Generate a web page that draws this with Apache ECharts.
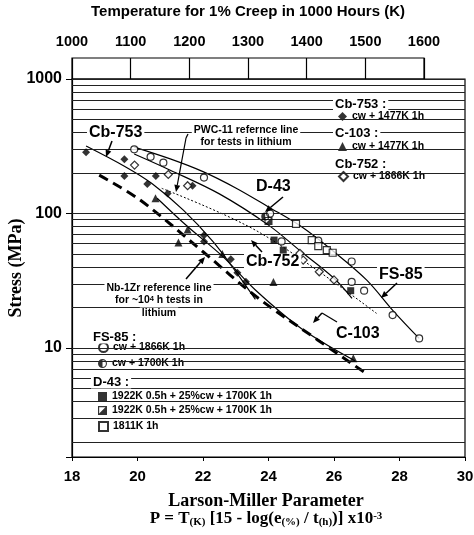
<!DOCTYPE html>
<html><head><meta charset="utf-8">
<script src="https://cdn.jsdelivr.net/npm/echarts@6/dist/echarts.min.js"></script>
<style>html,body{margin:0;padding:0;background:#fff}#c{width:474px;height:535px}</style>
</head><body><div id="c"></div>
<script>
// ---- data ----
const xTicks = [18, 20, 22, 24, 26, 28, 30];
const tempTicks = [1000, 1100, 1200, 1300, 1400, 1500, 1600];
const stressGrid = [2,3,4,5,6,7,8,9,10,20,30,40,50,60,70,80,90,100,200,300,400,500,600,700,800,900,1000];
const stressLabels = [10, 100, 1000];

const cb753Pts = [[18.43,285],[19.6,253],[19.6,190],[20.56,190],[20.3,166],[21.68,161],[20.92,141],[22.03,69],[22.03,62],[22.85,45.7],[23.05,36.3],[23.31,31.1]];
const c103Pts  = [[20.55,130],[21.53,76],[21.25,61],[22.59,50],[24.15,31],[26.59,8.4]];
const cb752Pts = [[19.91,229],[20.94,195],[21.53,161],[24.96,50.6],[25.06,45.1],[25.55,36.9],[26.0,32.1]];
const fs85aPts = [[19.9,300],[20.4,264],[20.79,239],[22.03,185],[24.05,100],[24.4,62],[25.52,63],[26.54,44],[26.54,31],[26.92,26.7],[27.79,17.6],[28.6,11.8]];
const fs85bPts = [[23.9,95]];
const d43aPts  = [[24.17,63.5],[24.45,53.5],[26.51,26.7]];
const d43bPts  = [[24.0,88]];
const d43cPts  = [[24.84,83.6],[25.32,63.5],[25.52,57.3],[25.78,53.5],[25.96,51.1]];

const cb753Curve = [[18.43,318],[19.6,225],[20.43,168],[21.4,106],[22.3,62],[23.0,37],[23.6,23]];
const nb1zrCurve = [[18.83,193],[20.08,126],[22,52],[23.64,24],[25.5,11.5],[27.05,6.3]];
const c103Curve  = [[20.6,130],[21.53,80],[22.6,48],[23.6,27],[25,14],[26.64,8.05]];
const pwcCurve   = [[20.74,154],[23.74,72],[27.3,18.1]];
const cb752Curve = [[19.9,277],[21,210],[22.5,140],[24,82],[25,52],[26,33],[26.55,23.4]];
const fs85Curve  = [[19.9,312],[21,255],[22,205],[23,155],[24,112],[25,80],[26,52],[27,32],[27.8,19],[28.6,11.8]];

// ---- styling ----
const SANS = '"Liberation Sans", Arial, sans-serif';
const SERIF = '"Liberation Serif", "Times New Roman", serif';
const halfCircle = 'path://M0,-10A10,10 0 1,1 0,10A10,10 0 1,1 0,-10Z M0,-7.5L0,7.5A7.5,7.5 0 0,0 0,-7.5Z';
const halfSquare = 'path://M0,0L10,0L10,10L0,10Z M1.3,1.3L1.3,8.2L8.2,1.3Z';
const legendNames = {
  'Cb-753':'cw + 1477K 1h','C-103':'cw + 1477K 1h','Cb-752':'cw + 1866K 1h',
  'FS-85 a':'cw + 1866K 1h','FS-85 b':'cw + 1700K 1h',
  'D-43 a':'1922K 0.5h + 25%cw + 1700K 1h','D-43 b':'1922K 0.5h + 25%cw + 1700K 1h','D-43 c':'1811K 1h'
};

function scatter(name, data, symbol, filled, size) {
  return { type:'scatter', name, data, symbol, symbolSize: size || 7, z: 5,
    itemStyle: filled ? {color:'#000'} : {color:'#fff', borderColor:'#000', borderWidth:1.2} };
}
function curve(data, style) {
  return { type:'line', data, smooth:0.35, symbol:'none', z:4, silent:true,
    lineStyle: Object.assign({color:'#000', width:1.2}, style) };
}

const chart = echarts.init(document.getElementById('c'), null, {renderer:'canvas'});

function legendAt(name, left, top) {
  return { data:[name], left, top, padding:0, itemWidth:9, itemHeight:9, selectedMode:false,
    formatter: n => legendNames[n],
    textStyle:{fontFamily:SANS, fontWeight:'bold', fontSize:10.5, color:'#000'} };
}

function arrow(x1,y1,x2,y2, w) {
  const a = Math.atan2(y2-y1, x2-x1), L = 7, H = 3;
  const bx = x2 - L*Math.cos(a), by = y2 - L*Math.sin(a);
  return [
    {type:'line', z:20, shape:{x1,y1,x2:bx,y2:by}, style:{stroke:'#000', lineWidth:w||1.5}},
    {type:'polygon', z:20, shape:{points:[[x2,y2],[bx+H*Math.sin(a), by-H*Math.cos(a)],[bx-H*Math.sin(a), by+H*Math.cos(a)]]}, style:{fill:'#000'}}
  ];
}
function txt(x, y, text, size, align, extra) {
  return Object.assign({type:'text', z:20, x, y, style:{text, fontFamily:SANS, fontWeight:'bold', fontSize:size,
    fill:'#000', align: align||'left', verticalAlign:'middle', backgroundColor:'#fff', padding:[0,2]}}, extra||{});
}
function whiteRect(x,y,w,h){ return {type:'rect', z:3, shape:{x,y,width:w,height:h}, style:{fill:'#fff'}}; }

const graphics = [
  whiteRect(329, 94, 116, 96),
  whiteRect(86, 329, 188, 108),
  txt(333, 104, 'Cb-753 :', 13),
  txt(333, 133, 'C-103 :', 13),
  txt(333, 164, 'Cb-752 :', 13),
  txt(91, 337, 'FS-85 :', 13),
  txt(91, 382, 'D-43 :', 13),
  // annotations
  txt(87, 133, 'Cb-753', 16),
  txt(246, 130, 'PWC-11 refernce line', 10.5, 'center'),
  txt(246, 142, 'for tests in lithium', 10.5, 'center'),
  txt(254, 187, 'D-43', 16),
  txt(244, 262, 'Cb-752', 16),
  txt(377, 275, 'FS-85', 16),
  txt(334, 334, 'C-103', 16),
  txt(159, 288, 'Nb-1Zr reference line', 10.5, 'center'),
  {type:'text', z:20, x:159, y:300, style:{text:'{a|for ~10}{b|4}{a| h tests in}', align:'center', verticalAlign:'middle', backgroundColor:'#fff',
    rich:{a:{fontFamily:SANS, fontWeight:'bold', fontSize:10.5, fill:'#000'}, b:{fontFamily:SANS, fontWeight:'bold', fontSize:7.5, verticalAlign:'top', fill:'#000'}}}},
  txt(159, 313, 'lithium', 10.5, 'center'),
  // axis title lines
  {type:'text', z:20, x:266, y:501, style:{text:'Larson-Miller Parameter', fontFamily:SERIF, fontWeight:'bold', fontSize:18, fill:'#000', align:'center', verticalAlign:'middle'}},
  {type:'text', z:20, x:266, y:519, style:{text:'{a|P = T}{s|(K)}{a| [15 - log(e}{s|(%)}{a| / t}{s|(h)}{a|)] x10}{p|-3}', align:'center', verticalAlign:'middle',
    rich:{a:{fontFamily:SERIF, fontWeight:'bold', fontSize:17, fill:'#000'},
          s:{fontFamily:SERIF, fontWeight:'bold', fontSize:11, fill:'#000', verticalAlign:'bottom'},
          p:{fontFamily:SERIF, fontWeight:'bold', fontSize:11, fill:'#000', verticalAlign:'top'}}}},
  ...arrow(112,141,106,157),
  ...arrow(186,138,176,192,1.2),
  {type:'polyline', z:20, shape:{points:[[188,134],[186,138]]}, style:{stroke:'#000', lineWidth:1.2}},
  ...arrow(283,197,265,212),
  ...arrow(262,252,251,240),
  ...arrow(397,283,381,298),
  {type:'polyline', z:20, shape:{points:[[337,322],[322,313]]}, style:{stroke:'#000', lineWidth:1.2}},
  ...arrow(322,313,313,323),
  ...arrow(186,279,205,257),
];

const option = {
  animation:false,
  backgroundColor:'#fff',
  grid:[
    {left:72, top:79, width:393, height:378, show:true, borderColor:'#000', borderWidth:1.2, backgroundColor:'transparent', containLabel:false, outerBoundsMode:'none'},
    {left:72, top:58, width:352, height:21, show:true, borderColor:'#000', borderWidth:1.2, backgroundColor:'transparent', containLabel:false, outerBoundsMode:'none'}
  ],
  xAxis:[
    {type:'value', gridIndex:0, min:18, max:30, interval:2,
      axisLine:{lineStyle:{color:'#000', width:1.2}}, axisTick:{length:4, lineStyle:{color:'#000'}},
      splitLine:{show:false},
      axisLabel:{fontFamily:SANS, fontWeight:'bold', fontSize:15, color:'#000', margin:12,
        formatter: v => xTicks.includes(v) ? String(v) : ''}},
    {type:'value', gridIndex:1, position:'top', min:1000, max:1600, interval:100,
      axisLine:{lineStyle:{color:'#000', width:1.2}}, axisTick:{show:false},
      splitLine:{show:true, lineStyle:{color:'#000', width:1.2}},
      axisLabel:{fontFamily:SANS, fontWeight:'bold', fontSize:14.5, color:'#000', margin:9,
        formatter: v => tempTicks.includes(v) ? String(v) : ''},
      name:'Temperature for 1% Creep in 1000 Hours (K)', nameLocation:'middle', nameGap:39, nameMoveOverlap:false,
      nameTextStyle:{fontFamily:SANS, fontWeight:'bold', fontSize:15, color:'#000'}}
  ],
  yAxis:[
    {type:'log', logBase:10, gridIndex:0, min:1.55, max:1000,
      axisLine:{lineStyle:{color:'#000', width:1.2}},
      axisTick:{length:6, lineStyle:{color:'#000'}},
      splitLine:{show:false},
      axisLabel:{fontFamily:SANS, fontWeight:'bold', fontSize:16, color:'#000', margin:10,
        formatter: v => { const r = stressLabels.find(s => Math.abs(s - v) < 1e-6 * s); return r ? String(r) : ''; }},
      name:'Stress (MPa)', nameLocation:'middle', nameGap:47, nameMoveOverlap:false,
      nameTextStyle:{fontFamily:SERIF, fontWeight:'bold', fontSize:18, color:'#000', padding:[0,0,0,0]}},
    {type:'value', gridIndex:1, min:0, max:1, show:false}
  ],
  legend:[
    legendAt('Cb-753', 338, 111),
    legendAt('C-103', 338, 141),
    legendAt('Cb-752', 338, 171),
    legendAt('FS-85 a', 98, 342),
    legendAt('FS-85 b', 98, 358),
    legendAt('D-43 a', 98, 391),
    legendAt('D-43 b', 98, 405),
    legendAt('D-43 c', 98, 421)
  ],
  series:[
    {type:'line', data:[], z:1, silent:true,
      markLine:{silent:true, symbol:'none', label:{show:false},
        lineStyle:{color:'#222', width:1, type:'solid'},
        data: stressGrid.map(v => ({yAxis:v}))}},
    curve(cb753Curve),
    curve(nb1zrCurve, {width:3, type:[10,6]}),
    curve(c103Curve),
    curve(pwcCurve, {width:1, type:[2,2]}),
    curve(cb752Curve),
    curve(fs85Curve),
    scatter('Cb-753', cb753Pts, 'diamond', true, 8),
    scatter('C-103', c103Pts, 'triangle', true, 8),
    scatter('Cb-752', cb752Pts, 'diamond', false, 8),
    scatter('FS-85 a', fs85aPts, 'circle', false, 7),
    scatter('FS-85 b', fs85bPts, halfCircle, true, 8),
    scatter('D-43 a', d43aPts, 'rect', true, 7),
    scatter('D-43 b', d43bPts, halfSquare, true, 8),
    scatter('D-43 c', d43cPts, 'rect', false, 7)
  ],
  graphic: graphics
};
chart.setOption(option);
</script>
</body></html>
